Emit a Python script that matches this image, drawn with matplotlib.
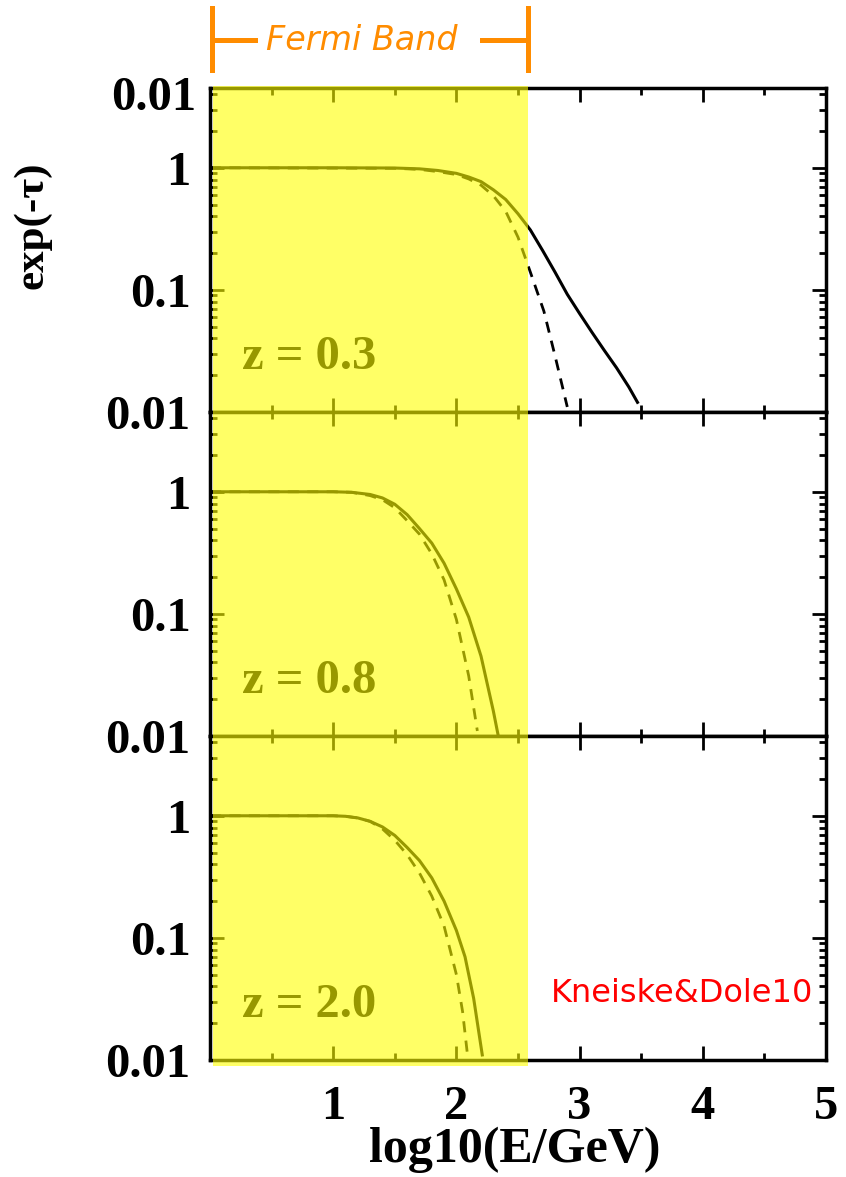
import matplotlib
matplotlib.use("Agg")
import matplotlib.pyplot as plt
from matplotlib.patches import Rectangle
from matplotlib.lines import Line2D
from matplotlib.ticker import LogLocator, NullFormatter, FixedLocator, MultipleLocator

# EBL attenuation curves (x = log10(E/GeV))
redshifts = ["0.3", "0.8", "2.0"]

x_solid_03 = [0, 0.5, 1.0, 1.5, 1.7, 1.85, 2.0, 2.1, 2.2, 2.3, 2.4, 2.5, 2.6, 2.7,
              2.8, 2.9, 3.0, 3.1, 3.2, 3.3, 3.4, 3.47]
y_solid_03 = [1, 1, 1, 0.995, 0.98, 0.95, 0.9, 0.84, 0.77, 0.66, 0.55, 0.42, 0.31, 0.21,
              0.14, 0.092, 0.064, 0.045, 0.032, 0.023, 0.016, 0.012]
x_dash_03 = [0, 1.5, 1.7, 1.85, 2.0, 2.1, 2.2, 2.3, 2.4, 2.5, 2.6, 2.71, 2.8, 2.9]
y_dash_03 = [1, 0.99, 0.97, 0.93, 0.88, 0.81, 0.72, 0.59, 0.44, 0.27, 0.14, 0.067, 0.029, 0.011]

x_solid_08 = [0, 0.5, 1.0, 1.15, 1.3, 1.4, 1.5, 1.6, 1.7, 1.8, 1.9, 2.0, 2.1, 2.2, 2.3, 2.34]
y_solid_08 = [1, 1, 1, 0.99, 0.95, 0.89, 0.79, 0.65, 0.5, 0.38, 0.26, 0.16, 0.094, 0.045,
              0.016, 0.01]
x_dash_08 = [0, 1.0, 1.15, 1.3, 1.4, 1.5, 1.6, 1.7, 1.8, 1.9, 2.0, 2.1, 2.17]
y_dash_08 = [1, 1, 0.99, 0.93, 0.86, 0.74, 0.58, 0.45, 0.31, 0.19, 0.09, 0.031, 0.011]

x_solid_20 = [0, 0.5, 1.0, 1.1, 1.2, 1.3, 1.4, 1.5, 1.6, 1.7, 1.8, 1.9, 2.0, 2.07, 2.14, 2.21]
y_solid_20 = [1, 1, 1, 0.99, 0.96, 0.9, 0.81, 0.69, 0.55, 0.43, 0.31, 0.2, 0.115, 0.07,
              0.032, 0.011]
x_dash_20 = [0, 1.0, 1.1, 1.2, 1.3, 1.4, 1.5, 1.6, 1.7, 1.8, 1.9, 2.0, 2.05, 2.09]
y_dash_20 = [1, 1, 0.99, 0.96, 0.9, 0.78, 0.63, 0.48, 0.34, 0.22, 0.125, 0.05, 0.025, 0.011]

solid_x = [x_solid_03, x_solid_08, x_solid_20]
solid_y = [y_solid_03, y_solid_08, y_solid_20]
dash_x = [x_dash_03, x_dash_08, x_dash_20]
dash_y = [y_dash_03, y_dash_08, y_dash_20]

fermi_band = (0.0, 2.58)
x_ticks = [1, 2, 3, 4, 5]
y_ticks = [0.01, 0.1, 1]

W, H = 846, 1177
fig = plt.figure(figsize=(W / 100, H / 100), dpi=100)

serif = "Liberation Serif"
tick_fs = 35

left_px, right_px = 210, 826
tops_px = [88, 412, 736]
panel_h = 324

axes = []
for i in range(3):
    top = tops_px[i]
    ax = fig.add_axes([left_px / W, 1 - (top + panel_h) / H,
                       (right_px - left_px) / W, panel_h / H])
    ax.set_xlim(0, 5)
    ax.set_yscale("log")
    ax.set_ylim(0.01, 4.5)

    ax.plot(solid_x[i], solid_y[i], color="black", lw=2.2, solid_joinstyle="round")
    ax.plot(dash_x[i], dash_y[i], color="black", lw=2.0, linestyle=(0, (4, 3)))

    ax.text(0.052, 0.17, "z = " + redshifts[i], transform=ax.transAxes,
            fontsize=tick_fs, fontweight="bold", family=serif,
            ha="left", va="center")

    for sp in ax.spines.values():
        sp.set_linewidth(2.5)

    ax.xaxis.set_major_locator(FixedLocator(x_ticks))
    ax.xaxis.set_minor_locator(MultipleLocator(0.5))
    ax.yaxis.set_major_locator(FixedLocator(y_ticks))
    ax.yaxis.set_minor_locator(LogLocator(base=10, subs=range(2, 10)))
    ax.yaxis.set_minor_formatter(NullFormatter())
    ax.set_yticklabels(["0.01", "0.1", "1"])

    ax.tick_params(which="both", direction="in", top=True, right=True, width=2)
    ax.tick_params(which="major", length=10)
    ax.tick_params(which="minor", length=5)
    ax.tick_params(axis="y", which="major", pad=14, labelsize=tick_fs)
    ax.tick_params(axis="x", which="major", pad=18, labelsize=tick_fs)
    for lab in ax.get_xticklabels() + ax.get_yticklabels():
        lab.set_family(serif)
        lab.set_fontweight("bold")
    if i < 2:
        ax.tick_params(axis="x", labelbottom=False)
    axes.append(ax)

# extra label at the very top of the first panel, as in the picture
axes[0].text(-14 / (right_px - left_px), 3.7, "0.01",
             transform=axes[0].get_yaxis_transform(),
             fontsize=tick_fs, fontweight="bold", family=serif,
             ha="right", va="center")

fig.text(515 / W, 1 - 1150 / H, "log10(E/GeV)", fontsize=36,
         fontweight="bold", family=serif, ha="center", va="center")
fig.text(32 / W, 1 - 225 / H, "exp(-τ)", fontsize=31, fontweight="bold",
         family=serif, ha="center", va="center", rotation=90)

# Fermi band overlay, semi-transparent yellow over all three panels
x0_px = left_px + 3 + fermi_band[0] * (right_px - left_px) / 5
x1_px = left_px + fermi_band[1] * (right_px - left_px) / 5
fig.add_artist(Rectangle((x0_px / W, 1 - 1066 / H), (x1_px - x0_px) / W, (1066 - 86) / H,
                         transform=fig.transFigure, facecolor="#ffff00",
                         edgecolor="none", alpha=0.6, zorder=10))

# bracket with "Fermi Band"
orange = "#ff8c00"
bx0, bx1 = (left_px + 2) / W, x1_px / W
ytop, ybot, ymid = 1 - 8 / H, 1 - 70 / H, 1 - 40 / H
for xx in (bx0, bx1):
    fig.add_artist(Line2D([xx, xx], [ybot, ytop], color=orange, lw=3.6,
                          transform=fig.transFigure))
fig.add_artist(Line2D([bx0, 255 / W], [ymid, ymid], color=orange, lw=3.6,
                      transform=fig.transFigure))
fig.add_artist(Line2D([482 / W, bx1], [ymid, ymid], color=orange, lw=3.6,
                      transform=fig.transFigure))
fig.text(362 / W, ymid, "Fermi Band", color=orange, fontsize=24,
         style="italic", family="DejaVu Sans", ha="center", va="center")

fig.text(682 / W, 1 - 993 / H, "Kneiske&Dole10", color="red", fontsize=23,
         family="DejaVu Sans", ha="center", va="center")

fig.savefig("out.png", dpi=100)
